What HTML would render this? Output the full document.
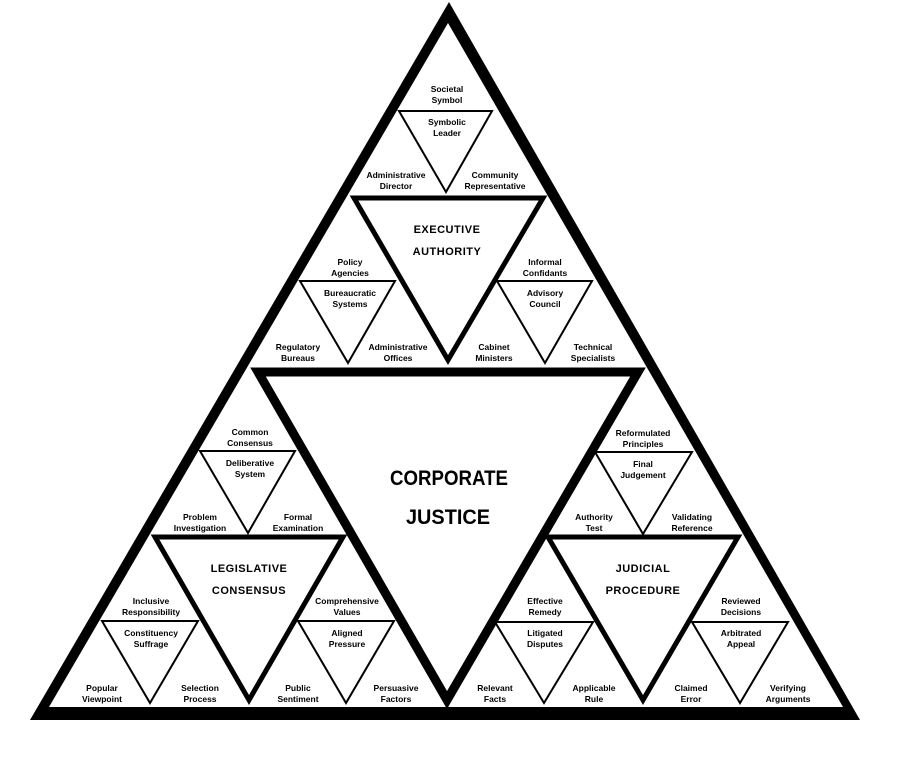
<!DOCTYPE html>
<html><head><meta charset="utf-8"><style>
html,body{margin:0;padding:0;background:#fff;}
svg{display:block}
text{font-family:"Liberation Sans",sans-serif;font-weight:bold;fill:#000;text-anchor:middle}
.s{font-size:8.5px}
.m{font-size:11px;font-weight:normal;letter-spacing:0.5px}
.b{font-size:21px;font-family:"Liberation Sans Narrow","Liberation Sans",sans-serif}
</style></head><body>
<svg width="915" height="778" viewBox="0 0 915 778" xmlns="http://www.w3.org/2000/svg">
<polygon points="449,2 30,720 860,720" fill="#000"/>
<polygon points="448,23 49,707 843,707" fill="#fff"/>
<polygon points="258,372 638,372 447,700" fill="none" stroke="#000" stroke-width="9" stroke-linejoin="miter"/>
<g fill="none" stroke="#000" stroke-width="5">
<polygon points="354,198 543,198 448,360"/>
<polygon points="155,537 343,537 249,700"/>
<polygon points="548,537 738,537 643,700"/>
</g>
<g fill="none" stroke="#000" stroke-width="2">
<polygon points="399,111 492,111 446,192"/>
<polygon points="300,281 395,281 348,363"/>
<polygon points="497,281 592,281 545,363"/>
<polygon points="200,451 295,451 248,533"/>
<polygon points="595,452 692,452 643,534"/>
<polygon points="102,621 198,621 150,703"/>
<polygon points="298,621 394,621 346,703"/>
<polygon points="495,622 593,622 544,703"/>
<polygon points="692,622 788,622 740,703"/>
</g>
<g class="s">
<text x="447" y="92">Societal</text><text x="447" y="103">Symbol</text>
<text x="447" y="125">Symbolic</text><text x="447" y="136">Leader</text>
<text x="396" y="178">Administrative</text><text x="396" y="189">Director</text>
<text x="495" y="178">Community</text><text x="495" y="189">Representative</text>
<text x="350" y="265">Policy</text><text x="350" y="276">Agencies</text>
<text x="350" y="296">Bureaucratic</text><text x="350" y="307">Systems</text>
<text x="298" y="350">Regulatory</text><text x="298" y="361">Bureaus</text>
<text x="398" y="350">Administrative</text><text x="398" y="361">Offices</text>
<text x="545" y="265">Informal</text><text x="545" y="276">Confidants</text>
<text x="545" y="296">Advisory</text><text x="545" y="307">Council</text>
<text x="494" y="350">Cabinet</text><text x="494" y="361">Ministers</text>
<text x="593" y="350">Technical</text><text x="593" y="361">Specialists</text>
<text x="250" y="435">Common</text><text x="250" y="446">Consensus</text>
<text x="250" y="466">Deliberative</text><text x="250" y="477">System</text>
<text x="200" y="520">Problem</text><text x="200" y="531">Investigation</text>
<text x="298" y="520">Formal</text><text x="298" y="531">Examination</text>
<text x="151" y="604">Inclusive</text><text x="151" y="615">Responsibility</text>
<text x="151" y="636">Constituency</text><text x="151" y="647">Suffrage</text>
<text x="102" y="691">Popular</text><text x="102" y="702">Viewpoint</text>
<text x="200" y="691">Selection</text><text x="200" y="702">Process</text>
<text x="347" y="604">Comprehensive</text><text x="347" y="615">Values</text>
<text x="347" y="636">Aligned</text><text x="347" y="647">Pressure</text>
<text x="298" y="691">Public</text><text x="298" y="702">Sentiment</text>
<text x="396" y="691">Persuasive</text><text x="396" y="702">Factors</text>
<text x="643" y="436">Reformulated</text><text x="643" y="447">Principles</text>
<text x="643" y="467">Final</text><text x="643" y="478">Judgement</text>
<text x="594" y="520">Authority</text><text x="594" y="531">Test</text>
<text x="692" y="520">Validating</text><text x="692" y="531">Reference</text>
<text x="545" y="604">Effective</text><text x="545" y="615">Remedy</text>
<text x="545" y="636">Litigated</text><text x="545" y="647">Disputes</text>
<text x="495" y="691">Relevant</text><text x="495" y="702">Facts</text>
<text x="594" y="691">Applicable</text><text x="594" y="702">Rule</text>
<text x="741" y="604">Reviewed</text><text x="741" y="615">Decisions</text>
<text x="741" y="636">Arbitrated</text><text x="741" y="647">Appeal</text>
<text x="691" y="691">Claimed</text><text x="691" y="702">Error</text>
<text x="788" y="691">Verifying</text><text x="788" y="702">Arguments</text>
</g>
<g class="m">
<text x="447" y="233">EXECUTIVE</text><text x="447" y="255">AUTHORITY</text>
<text x="249" y="572">LEGISLATIVE</text><text x="249" y="594">CONSENSUS</text>
<text x="643" y="572">JUDICIAL</text><text x="643" y="594">PROCEDURE</text>
</g>
<g class="b">
<text x="449" y="485" textLength="118" lengthAdjust="spacingAndGlyphs">CORPORATE</text>
<text x="448" y="524" textLength="84" lengthAdjust="spacingAndGlyphs">JUSTICE</text>
</g>
</svg>
</body></html>
